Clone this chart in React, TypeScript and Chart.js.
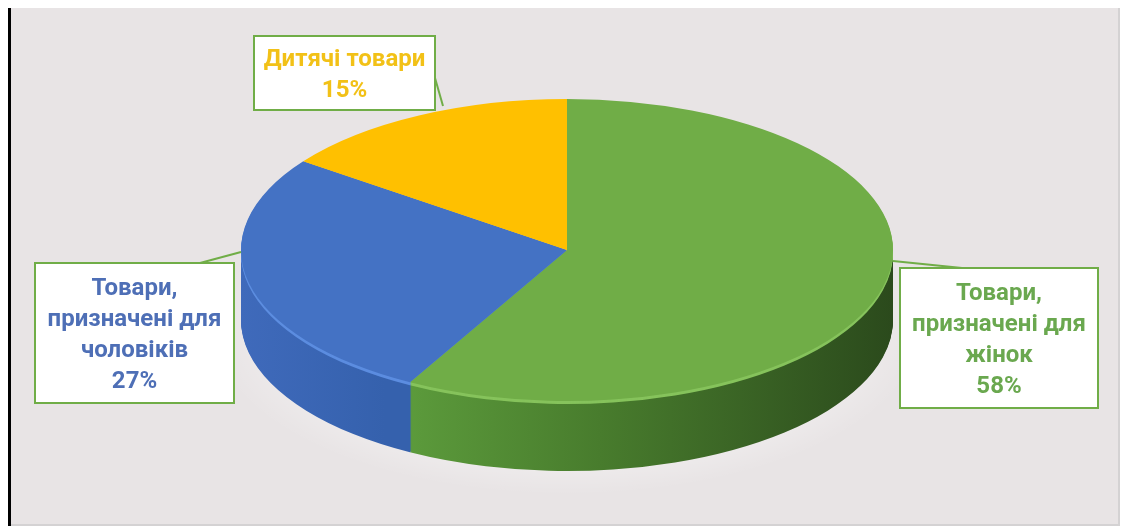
import React, { useEffect, useRef } from "react";
import { Chart, registerables } from "chart.js";

Chart.register(...registerables);

// ---- data ----
const categories = [
  "Товари, призначені для жінок",
  "Товари, призначені для чоловіків",
  "Дитячі товари",
];
const labelLines = [
  ["Товари,", "призначені для", "жінок"],
  ["Товари,", "призначені для", "чоловіків"],
  ["Дитячі товари"],
];
const shares = [58, 27, 15];
const topColors = ["#70AD47", "#4472C4", "#FFC000"];
const textColors = ["#6AA84F", "#4E6FB6", "#F2C117"];

// ---- styling / layout ----
const W = 1124;
const H = 526;
const CX = 567;
const CY = 250;
const RX = 326;
const RY = 151;
const DEPTH = 70;
const BEVEL = 3;
const FONT = "bold 24px Roboto, 'Noto Sans', sans-serif";
const LINE_H = 31;

const sideStops: [number, string][][] = [
  [
    [385, "#5E9E3D"],
    [600, "#487C2D"],
    [893, "#2B4A1C"],
  ],
  [
    [241, "#3F6ABB"],
    [385, "#3561AD"],
  ],
  [
    [300, "#C99600"],
    [560, "#B08300"],
  ],
];
const bevelColors = ["#86C35C", "#5C8DE0", "#FFD040"];

const boxes = [
  { x: 900, y: 268, w: 198, h: 140 },
  { x: 35, y: 263, w: 199, h: 140 },
  { x: 254, y: 36, w: 181, h: 74 },
];
const leaders = [
  [893, 261, 962, 268],
  [241, 252, 200, 263],
  [435, 78, 443, 106],
];

function applyTransform(ctx: CanvasRenderingContext2D, arc: any) {
  const R = arc.outerRadius;
  ctx.translate(CX, CY);
  ctx.scale(RX / R, RY / R);
  ctx.translate(-arc.x, -arc.y);
}

const pie3d = {
  id: "pie3d",
  beforeDraw(chart: any) {
    const ctx = chart.ctx as CanvasRenderingContext2D;
    ctx.save();
    ctx.fillStyle = "#FFFFFF";
    ctx.fillRect(0, 0, W, H);
    ctx.fillStyle = "#E8E4E5";
    ctx.fillRect(11, 8, 1107, 516);
    ctx.fillStyle = "#D4D2D3";
    ctx.fillRect(1118, 8, 2, 518);
    ctx.fillRect(11, 524, 1109, 2);
    ctx.fillStyle = "#000000";
    ctx.fillRect(8, 8, 3, 518);
    // soft light glow under the pie
    ctx.save();
    ctx.translate(CX, CY + DEPTH + 10);
    ctx.scale(1, RY / RX);
    const g = ctx.createRadialGradient(0, 0, RX * 0.7, 0, 0, RX + 30);
    g.addColorStop(0, "rgba(255,255,255,0.55)");
    g.addColorStop(1, "rgba(255,255,255,0)");
    ctx.fillStyle = g;
    ctx.beginPath();
    ctx.arc(0, 0, RX + 30, 0, Math.PI * 2);
    ctx.fill();
    ctx.restore();
    ctx.restore();
  },
  beforeDatasetsDraw(chart: any) {
    const ctx = chart.ctx as CanvasRenderingContext2D;
    const meta = chart.getDatasetMeta(0);
    const arc0 = meta.data[0];
    const R = arc0.outerRadius;
    const toChartX = (sx: number) => arc0.x + ((sx - CX) * R) / RX;
    const grads = sideStops.map((stops) => {
      const x0 = stops[0][0];
      const x1 = stops[stops.length - 1][0];
      const g = ctx.createLinearGradient(toChartX(x0), 0, toChartX(x1), 0);
      stops.forEach(([sx, c]) => g.addColorStop((sx - x0) / (x1 - x0), c));
      return g;
    });
    for (let d = DEPTH; d >= 1; d--) {
      ctx.save();
      ctx.translate(0, d);
      applyTransform(ctx, arc0);
      meta.data.forEach((el: any, i: number) => {
        const o = el.options;
        const bg = o.backgroundColor;
        const bw = o.borderWidth;
        o.backgroundColor = d <= BEVEL ? bevelColors[i] : grads[i];
        o.borderWidth = 0;
        el.draw(ctx);
        o.backgroundColor = bg;
        o.borderWidth = bw;
      });
      ctx.restore();
    }
    ctx.save();
    applyTransform(ctx, arc0);
  },
  afterDatasetsDraw(chart: any) {
    chart.ctx.restore();
  },
  afterDraw(chart: any) {
    const ctx = chart.ctx as CanvasRenderingContext2D;
    const total = shares.reduce((a, b) => a + b, 0);
    ctx.save();
    ctx.strokeStyle = "#70AD47";
    ctx.lineWidth = 2;
    leaders.forEach(([x1, y1, x2, y2]) => {
      ctx.beginPath();
      ctx.moveTo(x1, y1);
      ctx.lineTo(x2, y2);
      ctx.stroke();
    });
    boxes.forEach((b, i) => {
      ctx.fillStyle = "#FFFFFF";
      ctx.fillRect(b.x, b.y, b.w, b.h);
      ctx.strokeStyle = "#70AD47";
      ctx.lineWidth = 2;
      ctx.strokeRect(b.x, b.y, b.w, b.h);
      const lines = [
        ...labelLines[i],
        Math.round((shares[i] / total) * 100) + "%",
      ];
      ctx.fillStyle = textColors[i];
      ctx.font = FONT;
      ctx.textAlign = "center";
      ctx.textBaseline = "middle";
      const cy = b.y + b.h / 2 + 2;
      const start = cy - ((lines.length - 1) * LINE_H) / 2;
      lines.forEach((t, k) => {
        ctx.fillText(t, b.x + b.w / 2, start + k * LINE_H);
      });
    });
    ctx.restore();
  },
};

export default function App() {
  const ref = useRef<HTMLCanvasElement>(null);
  useEffect(() => {
    if (!ref.current) return;
    const chart = new Chart(ref.current, {
      type: "pie",
      data: {
        labels: categories,
        datasets: [
          {
            data: shares,
            backgroundColor: topColors,
            borderWidth: 0,
          },
        ],
      },
      options: {
        responsive: false,
        animation: false,
        events: [],
        layout: { padding: 10 },
        plugins: {
          legend: { display: false },
          tooltip: { enabled: false },
          title: { display: false },
        },
      },
      plugins: [pie3d],
    });
    return () => chart.destroy();
  }, []);
  return (
    <div style={{ position: "fixed", left: 0, top: 0, width: W, height: H }}>
      <canvas ref={ref} width={W} height={H} style={{ display: "block" }} />
    </div>
  );
}
